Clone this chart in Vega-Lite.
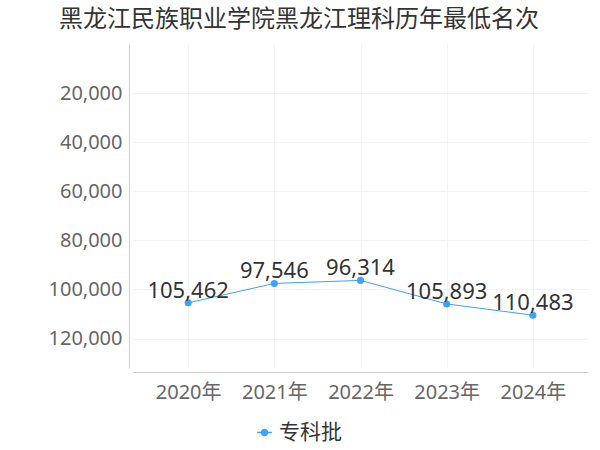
{
  "$schema": "https://vega.github.io/schema/vega-lite/v6.json",
  "autosize": "none",
  "width": 455,
  "height": 324,
  "padding": {"left": 133, "top": 44, "right": 12, "bottom": 82},
  "background": "white",
  "title": {
    "text": "黑龙江民族职业学院黑龙江理科历年最低名次",
    "anchor": "start",
    "frame": "group",
    "dx": -74,
    "offset": 12,
    "fontSize": 24,
    "fontWeight": "normal",
    "font": "Noto Sans CJK SC",
    "color": "#333333"
  },
  "config": {
    "view": {"stroke": null},
    "font": "Noto Sans, Noto Sans CJK SC"
  },
  "data": {
    "values": [
      {"year": "2020年", "rank": 105462, "batch": "专科批"},
      {"year": "2021年", "rank": 97546, "batch": "专科批"},
      {"year": "2022年", "rank": 96314, "batch": "专科批"},
      {"year": "2023年", "rank": 105893, "batch": "专科批"},
      {"year": "2024年", "rank": 110483, "batch": "专科批"}
    ]
  },
  "encoding": {
    "x": {
      "field": "year",
      "type": "ordinal",
      "scale": {"type": "point", "padding": 0.64},
      "axis": {
        "title": null,
        "labelAngle": 0,
        "labelFont": "Noto Sans, Noto Sans CJK SC",
        "labelFontSize": 20,
        "labelColor": "#666666",
        "labelPadding": 10,
        "ticks": false,
        "domainColor": "#cccccc",
        "offset": 4,
        "grid": true,
        "gridColor": "#f3f3f3"
      }
    },
    "y": {
      "field": "rank",
      "type": "quantitative",
      "scale": {"domain": [0, 132000], "reverse": true, "nice": false, "zero": false},
      "axis": {
        "title": null,
        "values": [20000, 40000, 60000, 80000, 100000, 120000],
        "format": ",.0f",
        "labelFont": "Noto Sans",
        "labelFontSize": 20,
        "labelColor": "#666666",
        "labelPadding": 7,
        "ticks": false,
        "domainColor": "#cccccc",
        "offset": 4,
        "grid": true,
        "gridColor": "#f3f3f3"
      }
    }
  },
  "layer": [
    {
      "mark": {"type": "line", "strokeWidth": 1, "point": {"filled": true, "size": 50}},
      "encoding": {
        "color": {
          "field": "batch",
          "type": "nominal",
          "scale": {"range": ["#3fa0ff"]},
          "legend": {
            "title": null,
            "orient": "none",
            "legendX": 121,
            "legendY": 378,
            "labelFont": "Noto Sans CJK SC",
            "labelFontSize": 21,
            "labelColor": "#333333",
            "symbolType": "M-1,0L-0.4,0M0.4,0L1,0M-0.4,0A0.4,0.4 0 1,0 0.4,0A0.4,0.4 0 1,0 -0.4,0Z",
            "symbolSize": 220,
            "symbolStrokeWidth": 1.5,
            "symbolFillColor": "#3fa0ff",
            "symbolStrokeColor": "#3fa0ff",
            "labelOffset": 4
          }
        }
      }
    },
    {
      "mark": {"type": "text", "baseline": "bottom", "dy": 0, "fontSize": 22, "font": "Noto Sans", "color": "#333333"},
      "encoding": {
        "text": {"field": "rank", "type": "quantitative", "format": ",.0f"}
      }
    }
  ]
}
